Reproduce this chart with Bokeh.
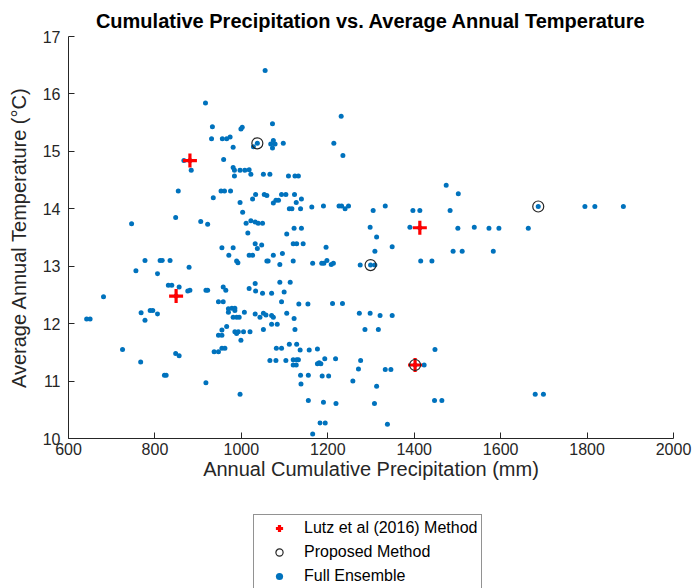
from bokeh.plotting import figure
from bokeh.models import Range1d, Legend, LegendItem, FixedTicker
from bokeh.layouts import column
from bokeh.embed import file_html
from bokeh.resources import INLINE

# Full ensemble: annual cumulative precipitation (mm) and average annual temperature (degC)
precip = [
    1055, 917, 933, 1002, 999, 1072, 1231, 931, 956, 966, 974, 981, 1037, 1028, 1074, 1078, 1068, 1072, 1097, 1214,
    1235, 867, 884, 959, 981, 984, 997, 1008, 1018, 1022, 984, 1051, 1066, 1109, 1124, 1132, 854, 935, 953, 961,
    975, 997, 1003, 1033, 1026, 1053, 1059, 1074, 1080, 1086, 1093, 1103, 1123, 1127, 1139, 1111, 1117, 1137, 1163, 1190,
    1226, 1232, 1240, 1248, 1305, 1333, 1397, 1413, 1483, 1474, 1502, 1687, 1795, 1818, 1884, 848, 746, 906, 922, 1011,
    1022, 1032, 1039, 1049, 1015, 1122, 1139, 1105, 1298, 1313, 1390, 1501, 1539, 1573, 1596, 1664, 1490, 1511, 1583, 1680,
    1699, 881, 1413, 849, 1402,
    1047, 1120, 1128, 1143, 1196, 1349, 1309, 1074, 1095, 1059, 1062, 1089, 1120, 1165, 1186, 1191, 1198, 1208, 1213, 1275,
    1299, 1309, 1415, 1441, 1089, 1113, 1049, 1070, 1099, 1093, 1133, 1154, 1211, 1234, 1051, 1057, 1070, 1074, 1105, 1122,
    1273, 1298, 1321, 1349, 1051, 1070, 1083, 1124, 1286, 1317, 1081, 1093, 1111, 1128, 1136, 1157, 1176, 1448, 1066, 1080,
    1103, 1120, 1128, 1132, 1120, 1127, 1176, 1180, 1184, 1193, 1218, 1276, 1271, 1333, 1346, 1423, 1137, 1155, 1187, 1202,
    1138, 1258, 1313, 1155, 1190, 1219, 1308, 1447, 1464, 1182, 1194, 1338, 1165,
    981, 955, 971, 989, 992, 1032, 1037, 1018, 1026, 777, 812, 817, 835, 756, 806, 879, 831, 839, 856, 876,
    881, 681, 918, 922, 958, 964, 1018, 1032, 1033, 947, 958, 970, 978, 985, 970, 985, 981, 989, 1007, 1032,
    1043, 768, 789, 795, 806, 777, 642, 650, 966, 955, 947, 955, 985, 989, 993, 1005, 1020, 999, 725, 848,
    856, 937, 947, 955, 962, 767, 822, 826, 918, 997, 995,
]
temp = [
    16.41, 15.84, 15.43, 15.42, 15.39, 15.48, 15.61, 15.22, 15.22, 15.22, 15.25, 15.07, 15.14, 15.08, 15.19, 15.13, 15.13, 15.06, 15.14, 15.14,
    14.93, 14.84, 14.67, 14.86, 14.72, 14.67, 14.67, 14.67, 14.68, 14.60, 14.57, 14.60, 14.60, 14.57, 14.57, 14.57, 14.31, 14.19, 14.31, 14.31,
    14.31, 14.11, 13.94, 14.25, 14.17, 14.25, 14.23, 14.10, 14.15, 14.15, 14.25, 14.25, 14.25, 14.11, 14.17, 14.00, 14.00, 14.00, 14.03, 14.05,
    14.05, 14.05, 14.00, 14.05, 13.97, 14.05, 13.97, 13.97, 13.97, 14.41, 14.26, 14.04, 14.04, 14.04, 14.04, 13.85, 13.74, 13.78, 13.73, 13.75,
    13.79, 13.77, 13.75, 13.75, 13.58, 13.66, 13.66, 13.56, 13.68, 13.51, 13.68, 13.66, 13.68, 13.66, 13.66, 13.66, 13.26, 13.26, 13.26, 10.77,
    10.77, 14.84, 13.67, 12.48, 11.28,
    13.37, 13.39, 13.39, 13.39, 13.33, 13.34, 13.26, 13.19, 13.22, 13.09, 13.09, 13.03, 13.09, 13.05, 13.05, 13.05, 13.10, 13.03, 13.05, 13.02,
    13.02, 13.02, 13.09, 13.09, 12.72, 12.72, 12.53, 12.53, 12.55, 12.38, 12.34, 12.34, 12.35, 12.35, 12.18, 12.15, 12.14, 12.11, 12.18, 12.09,
    12.18, 12.18, 12.14, 12.14, 11.90, 11.99, 11.99, 11.90, 11.90, 11.90, 11.57, 11.57, 11.64, 11.64, 11.54, 11.54, 11.56, 11.55, 11.36, 11.36,
    11.36, 11.37, 11.37, 11.37, 11.28, 11.28, 11.30, 11.32, 11.30, 11.39, 11.39, 11.36, 11.21, 11.20, 11.20, 11.28, 11.10, 11.10, 11.09, 11.09,
    10.95, 11.00, 10.91, 10.66, 10.63, 10.61, 10.61, 10.66, 10.66, 10.27, 10.27, 10.25, 10.08,
    13.32, 13.32, 13.19, 13.09, 13.06, 13.39, 13.31, 13.19, 13.19, 13.10, 13.10, 13.10, 13.10, 12.92, 12.87, 12.98, 12.67, 12.67, 12.64, 12.57,
    12.58, 12.47, 12.58, 12.58, 12.64, 12.58, 12.61, 12.70, 12.57, 12.38, 12.38, 12.26, 12.27, 12.27, 12.20, 12.23, 12.11, 12.11, 12.20, 12.17,
    12.11, 12.19, 12.23, 12.23, 12.17, 12.06, 12.08, 12.08, 11.95, 11.89, 11.80, 11.80, 11.86, 11.83, 11.86, 11.86, 11.86, 11.71, 11.55, 11.48,
    11.44, 11.51, 11.51, 11.57, 11.57, 11.33, 11.10, 11.10, 10.97, 10.77, 12.11,
]

# Lutz et al (2016) method selections
lutz_precip = [881, 1413, 849, 1402]
lutz_temp = [14.84, 13.67, 12.48, 11.28]

# Proposed method selections
prop_precip = [1037, 1687, 1299, 1402]
prop_temp = [15.14, 14.04, 13.02, 11.28]

x_ticks = [600, 800, 1000, 1200, 1400, 1600, 1800, 2000]
y_ticks = [10, 11, 12, 13, 14, 15, 16, 17]

legend_labels = ["Lutz et al (2016) Method", "Proposed Method", "Full Ensemble"]

FONT = "Liberation Sans"
AX = "#262626"
BLUE = "#0072BD"
RED = "#FF0000"

# ---------------- main scatter plot ----------------
p = figure(
    width=699, height=500,
    x_range=Range1d(600, 2000), y_range=Range1d(10, 17),
    output_backend="svg", toolbar_location=None,
    min_border_left=68, min_border_right=26, min_border_top=36, min_border_bottom=62,
    title="Cumulative Precipitation vs. Average Annual Temperature",
)
p.outline_line_color = None
p.xgrid.visible = False
p.ygrid.visible = False
p.background_fill_color = "white"
p.border_fill_color = "white"

p.title.align = "center"
p.title.text_font = FONT
p.title.text_font_size = "20px"
p.title.text_font_style = "bold"
p.title.text_color = "black"
p.title.standoff = 10

for ax in (p.xaxis[0], p.yaxis[0]):
    ax.axis_line_color = AX
    ax.major_tick_line_color = AX
    ax.major_tick_in = 6
    ax.major_tick_out = 0
    ax.minor_tick_line_color = None
    ax.major_label_text_font = FONT
    ax.major_label_text_font_size = "16px"
    ax.major_label_text_color = AX
    ax.axis_label_text_font = FONT
    ax.axis_label_text_font_size = "20px"
    ax.axis_label_text_font_style = "normal"
    ax.axis_label_text_color = AX

p.xaxis.ticker = FixedTicker(ticks=x_ticks)
p.yaxis.ticker = FixedTicker(ticks=y_ticks)
p.xaxis.axis_label = "Annual Cumulative Precipitation (mm)"
p.yaxis.axis_label = "Average Annual Temperature (\u00b0C)"
p.xaxis.major_label_standoff = 4
p.xaxis.axis_label_standoff = 0
p.yaxis.major_label_standoff = 8
p.yaxis.axis_label_standoff = 10

p.scatter(precip, temp, marker="circle", size=5, fill_color=BLUE, line_color=BLUE, line_width=0)
p.scatter(lutz_precip, lutz_temp, marker="cross", size=14, line_color=RED, line_width=3.2)
p.scatter(prop_precip, prop_temp, marker="circle", size=11, fill_color=None, line_color=AX, line_width=1.2)

# ---------------- legend strip below (southoutside) ----------------
# Its ranges lie away from the data, so the proxy renderers only feed the legend glyphs.
p2 = figure(
    width=699, height=88,
    x_range=Range1d(0, 1), y_range=Range1d(0, 1),
    output_backend="svg", toolbar_location=None,
    x_axis_location=None, y_axis_location=None,
    min_border_left=0, min_border_right=0, min_border_top=0, min_border_bottom=0,
)
p2.outline_line_color = None
p2.xgrid.visible = False
p2.ygrid.visible = False
p2.background_fill_color = "white"
p2.border_fill_color = "white"

l_lutz = p2.scatter(lutz_precip, lutz_temp, marker="cross", size=14, line_color=RED, line_width=3.2)
l_prop = p2.scatter(prop_precip, prop_temp, marker="circle", size=11, fill_color=None, line_color=AX, line_width=1.2)
l_ens = p2.scatter(precip, temp, marker="circle", size=5, fill_color=BLUE, line_color=BLUE, line_width=0)

legend = Legend(
    items=[
        LegendItem(label=legend_labels[0], renderers=[l_lutz]),
        LegendItem(label=legend_labels[1], renderers=[l_prop]),
        LegendItem(label=legend_labels[2], renderers=[l_ens]),
    ],
    location=(185, -2),
    orientation="vertical",
    label_text_font=FONT,
    label_text_font_size="16px",
    label_text_color="black",
    glyph_width=42,
    glyph_height=18,
    label_height=18,
    label_standoff=4,
    spacing=6,
    padding=4,
    margin=0,
    border_line_color=AX,
    border_line_width=1,
    background_fill_color="white",
    background_fill_alpha=1.0,
)
p2.add_layout(legend, "center")

layout = column(p, p2, spacing=0)
open("out.html", "w").write(file_html(layout, INLINE))
